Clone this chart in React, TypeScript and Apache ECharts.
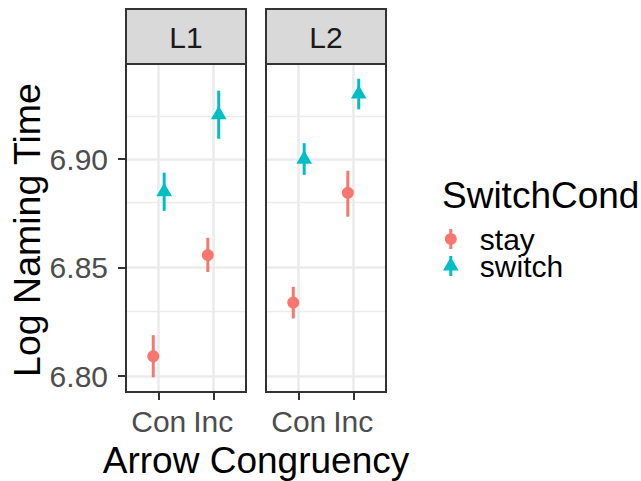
import React, { useEffect, useRef } from "react";
import * as echarts from "echarts";

// ---- data ----
const panels = ["L1", "L2"];
const categories = ["Con", "Inc"];
const yTicks = [6.8, 6.85, 6.9];
const yMinorGrid = [6.825, 6.875, 6.925];

const stayMean = [[6.8092, 6.8558], [6.8339, 6.8845]];
const stayLow = [[6.7995, 6.848], [6.8266, 6.8735]];
const stayHigh = [[6.8189, 6.8638], [6.8412, 6.8947]];

const switchMean = [[6.885, 6.9205], [6.9, 6.9301]];
const switchLow = [[6.8762, 6.9094], [6.8928, 6.923]];
const switchHigh = [[6.8938, 6.9316], [6.9074, 6.9371]];

const seriesNames = ["stay", "switch"];
const seriesColors = ["#F8766D", "#00BFC4"];

// ---- layout ----
const FONT = "'Liberation Sans', Arial, Helvetica, sans-serif";
const PANEL_LEFT = [126, 266];
const PANEL_W = 120;
const PANEL_TOP = 64;
const PANEL_H = 328;
const STRIP_TOP = 9;
const DODGE = 0.1;

const stayIcon =
  "path://M-1.5,-10 L1.5,-10 L1.5,10 L-1.5,10 Z M-6,0 A6,6 0 1,1 6,0 A6,6 0 1,1 -6,0 Z";
const switchIcon =
  "path://M-1.5,-10 L1.5,-10 L1.5,10 L-1.5,10 Z M0,-8.9 L7.8,4.5 L-7.8,4.5 Z";

function rows(mean: number[], low: number[], high: number[]) {
  return categories.map((_, i) => [i + 1, mean[i], low[i], high[i]]);
}

function makeRender(kind: "circle" | "triangle", offset: number) {
  return (params: any, api: any) => {
    const x = api.value(0) + offset;
    const m = api.coord([x, api.value(1)]);
    const lo = api.coord([x, api.value(2)]);
    const hi = api.coord([x, api.value(3)]);
    const color = api.visual("color");
    const mark =
      kind === "circle"
        ? { type: "circle", shape: { cx: m[0], cy: m[1], r: 6 }, style: { fill: color } }
        : {
            type: "polygon",
            shape: {
              points: [
                [m[0], m[1] - 8.9],
                [m[0] + 7.8, m[1] + 4.5],
                [m[0] - 7.8, m[1] + 4.5],
              ],
            },
            style: { fill: color },
          };
    return {
      type: "group",
      children: [
        {
          type: "line",
          shape: { x1: m[0], y1: lo[1], x2: m[0], y2: hi[1] },
          style: { stroke: color, lineWidth: 3 },
        },
        mark,
      ],
    };
  };
}

export default function App() {
  const ref = useRef<HTMLDivElement>(null);
  useEffect(() => {
    if (!ref.current) return;
    const chart = echarts.init(ref.current, null, { renderer: "svg" });

    const grids = panels.map((_, p) => ({
      left: PANEL_LEFT[p],
      top: PANEL_TOP,
      width: PANEL_W,
      height: PANEL_H,
      show: true,
      backgroundColor: "#FFFFFF",
      borderWidth: 0,
    }));

    const xAxes = panels.map((_, p) => ({
      type: "value",
      gridIndex: p,
      min: 0.4,
      max: 2.6,
      axisLine: { show: false },
      splitLine: { show: false },
      axisTick: {
        show: true,
        customValues: [1, 2],
        length: 8,
        lineStyle: { color: "#333333", width: 2 },
      },
      axisLabel: {
        show: true,
        customValues: [1, 2],
        formatter: (v: number) => categories[Math.round(v) - 1] ?? "",
        margin: 14,
        fontSize: 30,
        color: "#4D4D4D",
        fontFamily: FONT,
      },
    }));

    const yAxes = panels.map((_, p) => ({
      type: "value",
      gridIndex: p,
      min: 6.7927,
      max: 6.9439,
      axisLine: { show: false },
      splitLine: { show: false },
      axisTick: {
        show: p === 0,
        customValues: yTicks,
        length: 8,
        lineStyle: { color: "#333333", width: 2 },
      },
      axisLabel: {
        show: p === 0,
        customValues: yTicks,
        formatter: (v: number) => v.toFixed(2),
        margin: 18,
        fontSize: 30,
        color: "#4D4D4D",
        fontFamily: FONT,
      },
    }));

    const gridSeries = panels.map((_, p) => ({
      type: "line",
      name: "grid" + p,
      xAxisIndex: p,
      yAxisIndex: p,
      data: [],
      z: 1,
      silent: true,
      markLine: {
        silent: true,
        symbol: "none",
        z: 1,
        animation: false,
        label: { show: false },
        data: [
          ...yMinorGrid.map((v) => ({ yAxis: v, lineStyle: { color: "#EBEBEB", width: 1.3, type: "solid" } })),
          ...yTicks.map((v) => ({ yAxis: v, lineStyle: { color: "#EBEBEB", width: 2.6, type: "solid" } })),
          ...categories.map((_, i) => ({ xAxis: i + 1, lineStyle: { color: "#EBEBEB", width: 2.6, type: "solid" } })),
        ],
      },
    }));

    const pointSeries: any[] = [];
    panels.forEach((_, p) => {
      pointSeries.push({
        type: "custom",
        name: seriesNames[0],
        xAxisIndex: p,
        yAxisIndex: p,
        z: 10,
        itemStyle: { color: seriesColors[0] },
        renderItem: makeRender("circle", -DODGE),
        data: rows(stayMean[p], stayLow[p], stayHigh[p]),
      });
      pointSeries.push({
        type: "custom",
        name: seriesNames[1],
        xAxisIndex: p,
        yAxisIndex: p,
        z: 10,
        itemStyle: { color: seriesColors[1] },
        renderItem: makeRender("triangle", DODGE),
        data: rows(switchMean[p], switchLow[p], switchHigh[p]),
      });
    });

    const graphics: any[] = [];
    panels.forEach((name, p) => {
      graphics.push({
        type: "rect",
        shape: { x: PANEL_LEFT[p], y: STRIP_TOP, width: PANEL_W, height: PANEL_TOP - STRIP_TOP },
        style: { fill: "#D9D9D9", stroke: "#333333", lineWidth: 2 },
        z: 100,
      });
      graphics.push({
        type: "text",
        x: PANEL_LEFT[p] + PANEL_W / 2,
        y: (STRIP_TOP + PANEL_TOP) / 2 + 0.5,
        style: {
          text: name,
          fontSize: 30,
          fontFamily: FONT,
          fill: "#1A1A1A",
          align: "center",
          verticalAlign: "middle",
        },
        z: 101,
      });
      graphics.push({
        type: "rect",
        shape: { x: PANEL_LEFT[p], y: PANEL_TOP, width: PANEL_W, height: PANEL_H },
        style: { fill: "none", stroke: "#333333", lineWidth: 2 },
        z: 100,
      });
    });
    graphics.push({
      type: "text",
      x: 27,
      y: 230,
      rotation: Math.PI / 2,
      style: {
        text: "Log Naming Time",
        fontSize: 37.5,
        fontFamily: FONT,
        fill: "#000000",
        align: "center",
        verticalAlign: "middle",
      },
    });
    graphics.push({
      type: "text",
      x: 256,
      y: 460,
      style: {
        text: "Arrow Congruency",
        fontSize: 37,
        fontFamily: FONT,
        fill: "#000000",
        align: "center",
        verticalAlign: "middle",
      },
    });
    graphics.push({
      type: "text",
      x: 442,
      y: 195,
      style: {
        text: "SwitchCond",
        fontSize: 37,
        fontFamily: FONT,
        fill: "#000000",
        align: "left",
        verticalAlign: "middle",
      },
    });

    chart.setOption({
      animation: false,
      backgroundColor: "#FFFFFF",
      grid: grids,
      xAxis: xAxes,
      yAxis: yAxes,
      legend: {
        orient: "vertical",
        left: 443,
        top: 224,
        padding: 0,
        itemGap: -3,
        itemWidth: 48,
        itemHeight: 20,
        selectedMode: false,
        data: [
          { name: seriesNames[0], icon: stayIcon },
          { name: seriesNames[1], icon: switchIcon },
        ],
        textStyle: { fontSize: 30, lineHeight: 25, color: "#000000", fontFamily: FONT },
      },
      graphic: graphics,
      series: [...gridSeries, ...pointSeries],
    });

    return () => chart.dispose();
  }, []);

  return (
    <div
      ref={ref}
      style={{ position: "fixed", left: 0, top: 0, width: 641, height: 481 }}
    />
  );
}
